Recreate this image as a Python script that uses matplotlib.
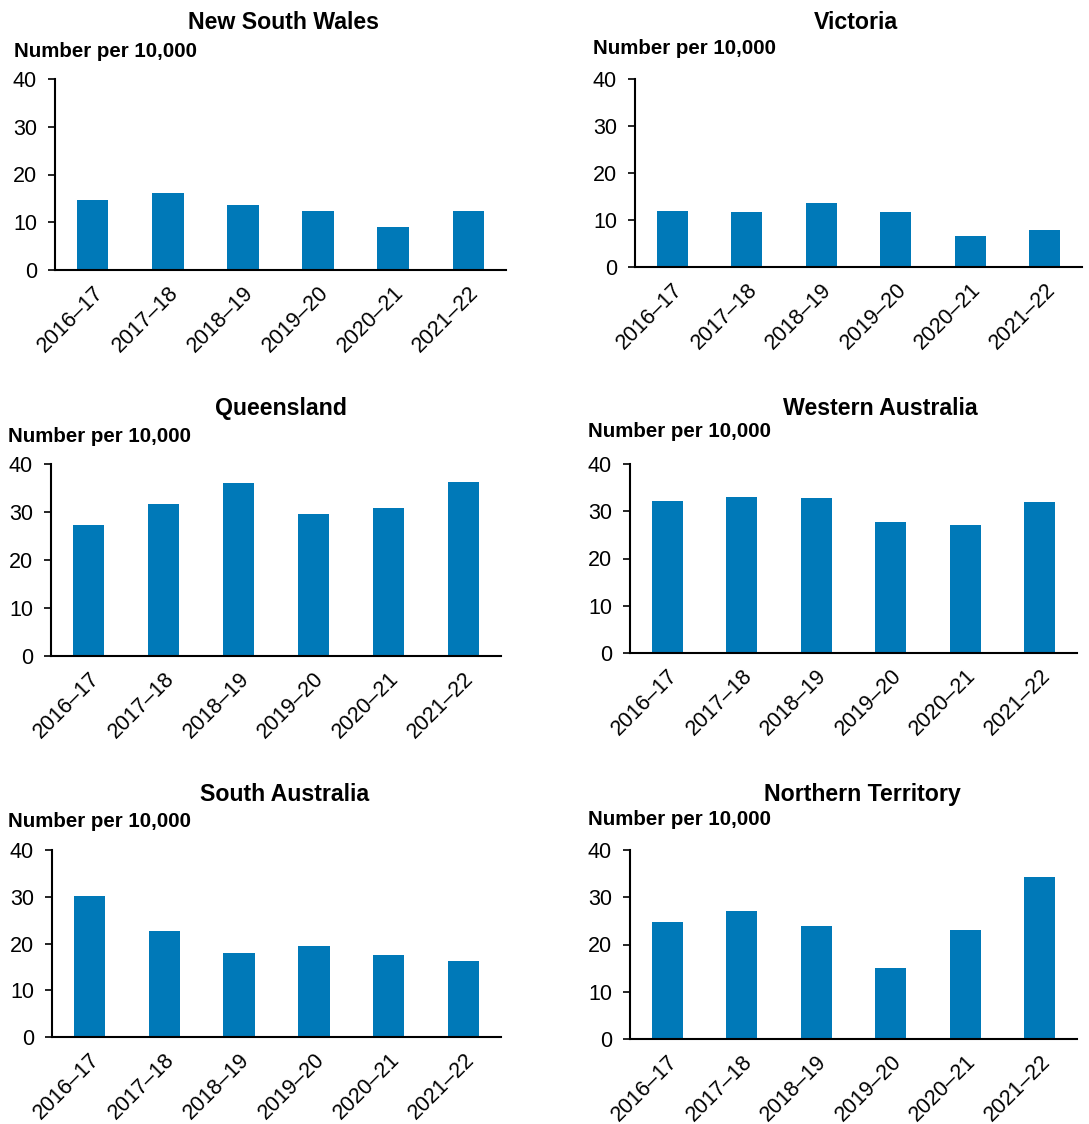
import matplotlib
matplotlib.use("Agg")
import matplotlib.pyplot as plt

plt.rcParams['font.family'] = ['Liberation Sans', 'DejaVu Sans']

# Data
years = ["2016–17", "2017–18", "2018–19", "2019–20", "2020–21", "2021–22"]
states = ["New South Wales", "Victoria", "Queensland",
          "Western Australia", "South Australia", "Northern Territory"]
nsw = [14.7, 16.2, 13.7, 12.4, 9.1, 12.3]
vic = [12.0, 11.7, 13.6, 11.7, 6.6, 7.9]
qld = [27.3, 31.6, 36.0, 29.5, 30.9, 36.2]
wa = [32.2, 33.1, 32.7, 27.8, 27.0, 31.9]
sa = [30.1, 22.6, 17.9, 19.5, 17.6, 16.2]
nt = [24.8, 27.1, 24.0, 15.0, 23.0, 34.3]
series = [nsw, vic, qld, wa, sa, nt]

BAR_COLOR = "#0079B8"
W, H = 1089, 1124

# panel boxes in pixels: left, top, right, bottom
boxes = [
    (55, 79, 506, 270),
    (635, 79, 1082, 267),
    (51, 464, 501, 656),
    (630, 464, 1077, 653),
    (52, 850, 501, 1037),
    (630, 850, 1077, 1039),
]
# title centre x and baseline y
title_pos = [(283, 29), (856, 29), (281, 415), (880, 415), (285, 801), (862, 801)]
# y label left x and baseline y
ylab_pos = [(14, 57), (593, 54), (8, 442), (588, 437), (8, 827), (588, 825)]

fig = plt.figure(figsize=(W / 100, H / 100), dpi=100)


def px_to_fig(x, y):
    return x / W, 1 - y / H


for i, (name, vals) in enumerate(zip(states, series)):
    l, t, r, b = boxes[i]
    ax = fig.add_axes([l / W, 1 - b / H, (r - l) / W, (b - t) / H])
    ax.bar(range(len(years)), vals, width=0.42, color=BAR_COLOR)
    ax.set_xlim(-0.5, len(years) - 0.5)
    ax.set_ylim(0, 40)
    ax.set_yticks([0, 10, 20, 30, 40])
    ax.set_xticks(range(len(years)))
    ax.set_xticklabels(years, rotation=45, ha="right", va="top",
                       rotation_mode="anchor")
    ax.tick_params(axis="y", length=5, width=1.2, labelsize=15.5, pad=8)
    ax.tick_params(axis="x", length=0, labelsize=15.5, pad=9)
    for s in ["top", "right"]:
        ax.spines[s].set_visible(False)
    for s in ["left", "bottom"]:
        ax.spines[s].set_linewidth(1.5)

    tx, ty = px_to_fig(*title_pos[i])
    fig.text(tx, ty, name, ha="center", va="baseline",
             fontsize=16.7, fontweight="bold")
    lx, ly = px_to_fig(*ylab_pos[i])
    fig.text(lx, ly, "Number per 10,000", ha="left", va="baseline",
             fontsize=14.8, fontweight="bold")

fig.savefig("out.png", dpi=100)
